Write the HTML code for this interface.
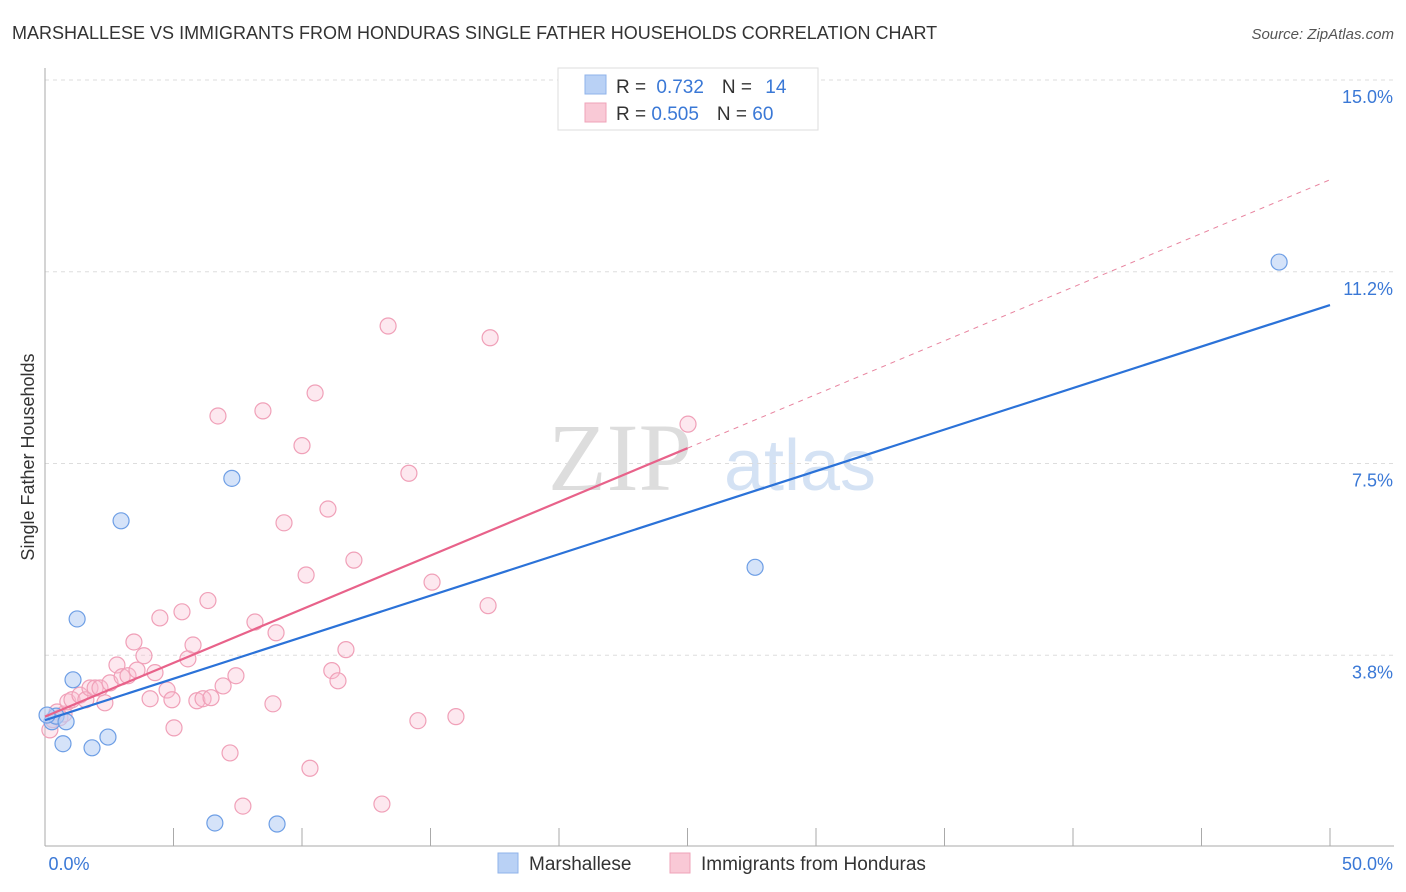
<!DOCTYPE html>
<html><head><meta charset="utf-8"><style>
body{margin:0;background:#fff;font-family:"Liberation Sans",sans-serif;}
svg{display:block}
</style></head><body>
<svg id="chart" width="1406" height="892" xmlns="http://www.w3.org/2000/svg">
<text x="12" y="39" font-size="18" fill="#333">MARSHALLESE VS IMMIGRANTS FROM HONDURAS SINGLE FATHER HOUSEHOLDS CORRELATION CHART</text>
<text x="1394" y="39" font-size="15" fill="#555" text-anchor="end" font-style="italic">Source: ZipAtlas.com</text>
<text x="620" y="490" font-size="96" fill="#ddd" font-family="Liberation Serif" text-anchor="middle">ZIP</text>
<text x="800" y="490" font-size="72" fill="#d4e2f4" text-anchor="middle">atlas</text>
<g id="grid"></g><g id="axes"></g><g id="marks"></g>
<text transform="translate(34,457) rotate(-90)" font-size="18" fill="#333" text-anchor="middle">Single Father Households</text>
<g>
<rect x="558" y="68" width="260" height="62" fill="#fff" stroke="#ddd"/>
<rect x="585" y="75" width="21" height="19" fill="#b9d1f5" stroke="#8fb3ea"/>
<rect x="585" y="103" width="21" height="19" fill="#f9c9d6" stroke="#efa3b8"/>
<text x="616" y="93" font-size="19" fill="#333">R = <tspan fill="#3a78d6" dx="5">0.732</tspan><tspan dx="18" fill="#333">N = </tspan><tspan fill="#3a78d6" dx="8">14</tspan></text>
<text x="616" y="120" font-size="19" fill="#333">R = <tspan fill="#3a78d6">0.505</tspan><tspan dx="18" fill="#333">N = </tspan><tspan fill="#3a78d6">60</tspan></text>
</g>
<g>
<rect x="498" y="853" width="20" height="20" fill="#b9d1f5" stroke="#8fb3ea"/>
<text x="529" y="870" font-size="19" fill="#333">Marshallese</text>
<rect x="670" y="853" width="20" height="20" fill="#f9c9d6" stroke="#efa3b8"/>
<text x="701" y="870" font-size="19" fill="#333">Immigrants from Honduras</text>
</g>
</svg>
<script>
const yTicks=[3.75,7.5,11.25,15];
const yTickLabels=["3.8%","7.5%","11.2%","15.0%"];
const xTickLabels=["0.0%","50.0%"];
const blueX=[0.27,0.43,0.08,0.70,0.82,1.09,1.25,1.83,2.45,2.96,6.61,7.27,9.03,27.63,48.02];
const blueY=[2.45,2.56,2.58,2.02,2.45,3.27,4.46,1.94,2.15,6.38,0.47,7.21,0.45,5.47,11.44];
const pinkX=[0.19,0.31,0.47,0.58,0.74,0.89,1.05,1.36,1.59,1.75,1.95,2.14,2.33,2.53,2.80,3.00,3.23,3.46,3.58,3.85,4.09,4.28,4.47,4.75,4.94,5.02,5.33,5.56,5.76,5.91,6.15,6.34,6.46,6.73,6.93,7.20,7.43,7.70,8.17,8.48,8.87,8.99,9.30,10.00,10.16,10.31,10.51,11.01,11.16,11.40,11.71,12.02,13.11,13.35,14.16,14.51,15.06,15.99,17.24,17.32,25.02];
const pinkY=[2.29,2.49,2.64,2.53,2.60,2.84,2.88,2.97,2.88,3.11,3.11,3.11,2.82,3.21,3.56,3.33,3.35,4.01,3.46,3.74,2.90,3.41,4.48,3.07,2.88,2.33,4.60,3.68,3.95,2.86,2.90,4.82,2.92,8.43,3.15,1.84,3.35,0.80,4.40,8.53,2.80,4.19,6.34,7.85,5.32,1.54,8.88,6.61,3.45,3.25,3.86,5.61,0.84,10.19,7.31,2.47,5.18,2.55,4.72,9.96,8.27];
const blueLine=[2.48,10.6], pinkLine=[2.55,7.8], pinkLineEnd=13.05;
const NS="http://www.w3.org/2000/svg";
const X0=45,X1=1330,YB=847,YPX=51.13;
const sx=v=>X0+(X1-X0)*v/50, sy=v=>YB-v*YPX;
function mk(tag,attrs,parent){const e=document.createElementNS(NS,tag);for(const k in attrs)e.setAttribute(k,attrs[k]);document.getElementById(parent).appendChild(e);return e;}
yTicks.forEach((t,i)=>{
 const l=mk('line',{x1:X0,x2:1394,y1:sy(t),y2:sy(t),stroke:'#ddd','stroke-dasharray':'4,4'},'grid');
 
 
 const tx=mk('text',{x:1393,y:sy(t)+23,'font-size':18,fill:'#3a78d6','text-anchor':'end'},'axes');
 tx.textContent=yTickLabels[i];
 
 
});
const ya=mk('line',{x1:X0,x2:X0,y1:68,y2:846,stroke:'#aaa'},'axes');


const xa=mk('line',{x1:X0,x2:1394,y1:846,y2:846,stroke:'#aaa'},'axes');


for(let i=0;i<=10;i++){const x=sx(i*5);const t=mk('line',{x1:x,x2:x,y1:828,y2:846,stroke:'#aaa'},'axes');
 
 }
[[0,X0+24,'middle'],[1,1393,'end']].forEach(([i,x,a])=>{const t=mk('text',{x:x,y:870,'font-size':18,fill:'#3a78d6','text-anchor':a},'axes');t.textContent=xTickLabels[i];
 
 });
pinkX.forEach((v,i)=>{const c=mk('circle',{cx:sx(v),cy:sy(pinkY[i]),r:8,fill:'rgba(249,190,208,0.35)',stroke:'#f0a0b8','stroke-width':1.2},'marks');
 
 });
blueX.forEach((v,i)=>{const c=mk('circle',{cx:sx(v),cy:sy(blueY[i]),r:8,fill:'rgba(185,209,245,0.6)',stroke:'#6d9ee5','stroke-width':1.2},'marks');
 
 });
const pd=mk('line',{x1:sx(25),y1:sy(pinkLine[1]),x2:sx(50),y2:sy(pinkLineEnd),stroke:'#e8849f','stroke-dasharray':'5,5','stroke-width':1},'marks');


const pl=mk('line',{x1:sx(0),y1:sy(pinkLine[0]),x2:sx(25),y2:sy(pinkLine[1]),stroke:'#e8628a','stroke-width':2.2},'marks');


const bl=mk('line',{x1:sx(0),y1:sy(blueLine[0]),x2:sx(50),y2:sy(blueLine[1]),stroke:'#2b72d8','stroke-width':2.2},'marks');


</script>
</body></html>
